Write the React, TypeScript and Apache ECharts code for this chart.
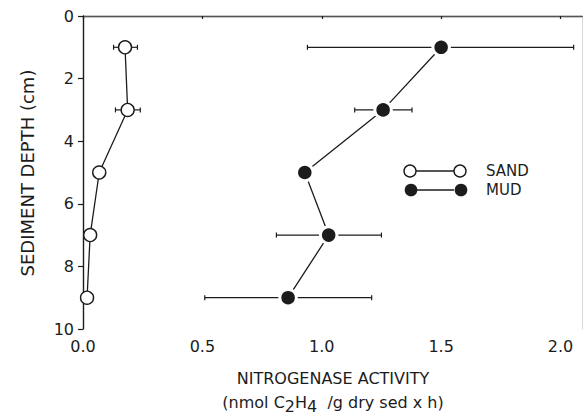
import React, { useEffect, useRef } from "react";
import * as echarts from "echarts";

const depths = [1, 3, 5, 7, 9];
const sandActivity = [0.176, 0.187, 0.068, 0.03, 0.017];
const sandErrLow = [0.128, 0.136, null, null, null];
const sandErrHigh = [0.228, 0.24, null, null, null];
const mudActivity = [1.5, 1.257, 0.929, 1.029, 0.859];
const mudErrLow = [0.94, 1.138, null, 0.81, 0.51];
const mudErrHigh = [2.055, 1.378, null, 1.25, 1.209];
const yTicks = [0, 2, 4, 6, 8, 10];
const xTicks = [0, 0.5, 1.0, 1.5, 2.0];
const legendNames = ["SAND", "MUD"];

const FONT = "'DejaVu Sans', Verdana, sans-serif";
const INK = "#1c1c1c";

function errData(low: (number | null)[], high: (number | null)[]) {
  const out: number[][] = [];
  depths.forEach((d, i) => {
    if (low[i] != null && high[i] != null) out.push([d, low[i] as number, high[i] as number]);
  });
  return out;
}

function errRender(params: any, api: any) {
  const y = api.value(0);
  const lo = api.coord([api.value(1), y]);
  const hi = api.coord([api.value(2), y]);
  const cap = 2.5;
  const st = { stroke: INK, lineWidth: 1.2 };
  return {
    type: "group",
    children: [
      { type: "line", shape: { x1: lo[0], y1: lo[1], x2: hi[0], y2: hi[1] }, style: st },
      { type: "line", shape: { x1: lo[0], y1: lo[1] - cap, x2: lo[0], y2: lo[1] + cap }, style: st },
      { type: "line", shape: { x1: hi[0], y1: hi[1] - cap, x2: hi[0], y2: hi[1] + cap }, style: st },
    ],
  };
}

export default function App() {
  const ref = useRef<HTMLDivElement>(null);
  useEffect(() => {
    if (!ref.current) return;
    const chart = echarts.init(ref.current, null, { renderer: "svg" });
    const sandPts = depths.map((d, i) => [sandActivity[i], d]);
    const mudPts = depths.map((d, i) => [mudActivity[i], d]);
    chart.setOption({
      animation: false,
      backgroundColor: "#ffffff",
      grid: { left: 83, top: 16, right: 1, bottom: 88, containLabel: false },
      xAxis: [
        {
          type: "value",
          min: 0,
          max: 2.09,
          interval: 0.5,
          axisLine: { show: true, lineStyle: { color: INK, width: 1.4 } },
          axisTick: { show: true, length: 3, inside: false, lineStyle: { color: INK, width: 1.2 } },
          splitLine: { show: false },
          axisLabel: {
            showMaxLabel: false,
            margin: 9,
            fontFamily: FONT,
            fontSize: 16,
            color: INK,
            formatter: (v: number) => (xTicks.includes(Math.round(v * 10) / 10) ? v.toFixed(1) : ""),
          },
        },
        {
          type: "value",
          position: "top",
          min: 0,
          max: 2.09,
          axisLine: { show: true, onZero: false, lineStyle: { color: "#555", width: 1.2 } },
          axisTick: { show: false },
          axisLabel: { show: false },
          splitLine: { show: false },
        },
      ],
      yAxis: [
        {
          type: "value",
          inverse: true,
          min: 0,
          max: 10,
          interval: 2,
          axisLine: { show: true, lineStyle: { color: INK, width: 1.4 } },
          axisTick: { show: true, length: 5, lineStyle: { color: INK, width: 1.2 } },
          splitLine: { show: false },
          axisLabel: {
            margin: 9,
            fontFamily: FONT,
            fontSize: 16,
            color: INK,
            formatter: (v: number) => (yTicks.includes(v) ? String(v) : ""),
          },
        },
        {
          type: "value",
          position: "right",
          inverse: true,
          min: 0,
          max: 10,
          axisLine: { show: true, onZero: false, lineStyle: { color: "#d8d8d8", width: 1 } },
          axisTick: { show: false },
          axisLabel: { show: false },
          splitLine: { show: false },
        },
      ],
      series: [
        {
          type: "custom",
          renderItem: errRender,
          data: errData(mudErrLow, mudErrHigh),
          encode: { x: [1, 2], y: 0 },
          z: 1,
        },
        {
          type: "custom",
          renderItem: errRender,
          data: errData(sandErrLow, sandErrHigh),
          encode: { x: [1, 2], y: 0 },
          z: 1,
        },
        {
          name: legendNames[0],
          type: "line",
          data: sandPts,
          showSymbol: false,
          lineStyle: { color: INK, width: 1.3 },
          z: 2,
        },
        {
          name: legendNames[1],
          type: "line",
          data: mudPts,
          showSymbol: false,
          lineStyle: { color: INK, width: 1.3 },
          z: 2,
        },
        {
          type: "scatter",
          data: sandPts,
          symbol: "circle",
          symbolSize: 13,
          itemStyle: { color: "#ffffff", borderColor: INK, borderWidth: 1.4, opacity: 1 },
          z: 4,
        },
        {
          type: "scatter",
          data: mudPts,
          symbol: "circle",
          symbolSize: 16.5,
          itemStyle: { color: INK, borderColor: "#ffffff", borderWidth: 3, opacity: 1 },
          z: 4,
        },
      ],
      graphic: [
        {
          type: "text",
          x: 27,
          y: 173,
          rotation: Math.PI / 2,
          style: {
            text: "SEDIMENT DEPTH (cm)",
            fontFamily: FONT,
            fontSize: 18,
            fill: INK,
            align: "center",
            verticalAlign: "middle",
          },
        },
        {
          type: "text",
          x: 333,
          y: 378,
          style: {
            text: "NITROGENASE ACTIVITY",
            fontFamily: FONT,
            fontSize: 16,
            fill: INK,
            align: "center",
            verticalAlign: "middle",
          },
        },
        {
          type: "text",
          x: 333,
          y: 402,
          style: {
            text: "{a|(nmol C}{s|2}{a|H}{s|4}{a|  /g dry sed x h)}",
            align: "center",
            verticalAlign: "middle",
            rich: {
              a: { fontFamily: FONT, fontSize: 16, fill: INK, color: INK },
              s: { fontFamily: FONT, fontSize: 16, fill: INK, color: INK, padding: [8, 0, 0, 0] },
            },
          },
        },
        { type: "line", shape: { x1: 416, y1: 171, x2: 454, y2: 171 }, style: { stroke: INK, lineWidth: 1.3 } },
        { type: "circle", shape: { cx: 410, cy: 171, r: 6 }, style: { fill: "#fff", stroke: INK, lineWidth: 1.4 } },
        { type: "circle", shape: { cx: 460, cy: 171, r: 6 }, style: { fill: "#fff", stroke: INK, lineWidth: 1.4 } },
        {
          type: "text",
          x: 486,
          y: 171,
          style: { text: legendNames[0], fontFamily: FONT, fontSize: 15, fill: INK, verticalAlign: "middle" },
        },
        { type: "line", shape: { x1: 417, y1: 190, x2: 454, y2: 190 }, style: { stroke: INK, lineWidth: 1.3 } },
        { type: "circle", shape: { cx: 411, cy: 190, r: 6.3 }, style: { fill: INK } },
        { type: "circle", shape: { cx: 461, cy: 190, r: 6.3 }, style: { fill: INK } },
        {
          type: "text",
          x: 486,
          y: 190,
          style: { text: legendNames[1], fontFamily: FONT, fontSize: 15, fill: INK, verticalAlign: "middle" },
        },
      ],
    });
    return () => chart.dispose();
  }, []);
  return (
    <div
      ref={ref}
      style={{ position: "fixed", left: 0, top: 0, width: 583, height: 417 }}
    />
  );
}
